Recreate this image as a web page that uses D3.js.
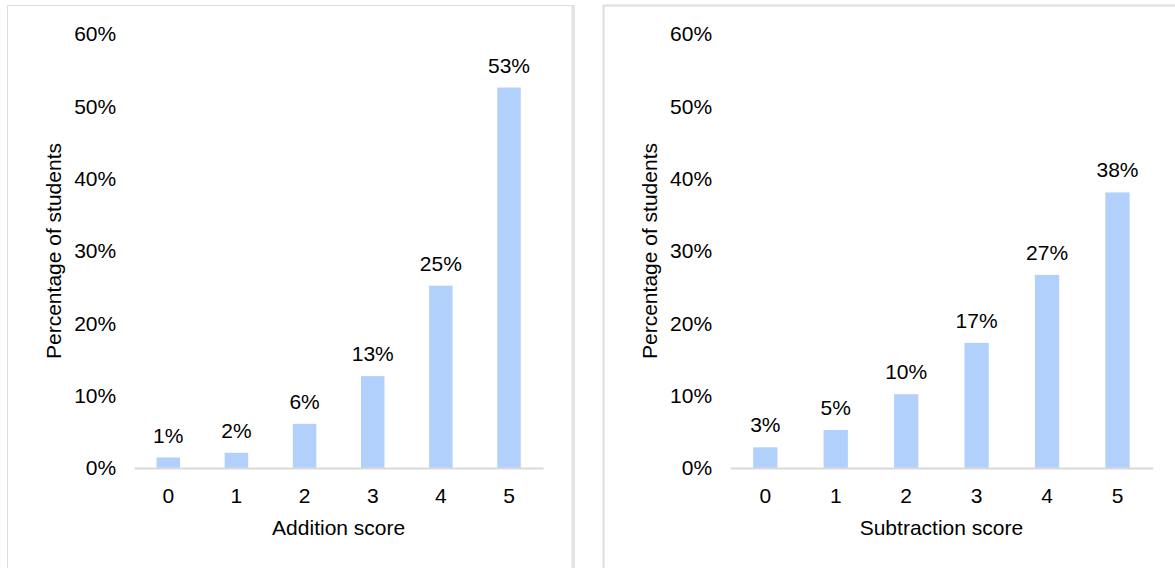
<!DOCTYPE html>
<html>
<head>
<meta charset="utf-8">
<script src="https://cdn.jsdelivr.net/npm/d3@7"></script>
<style>
  html, body { margin: 0; padding: 0; background: #ffffff; }
  svg { display: block; }
  text { font-family: "Liberation Sans", Arial, sans-serif; fill: #000; }
</style>
</head>
<body>
<svg id="chart" width="1175" height="568"></svg>
<script>
// Score categories shared by both panels
const scores = ["0", "1", "2", "3", "4", "5"];
// Share of students at each score (fractions)
const additionShare = [0.0145, 0.021, 0.061, 0.127, 0.252, 0.526];
const subtractionShare = [0.0286, 0.0525, 0.102, 0.173, 0.267, 0.381];
// Y-axis tick values
const yTicks = [0, 0.1, 0.2, 0.3, 0.4, 0.5, 0.6];

const panelDefs = [
  { title: "Addition score", values: additionShare,
    frame: { x: 7, y: 5, w: 567, h: 600 }, plot: { x0: 134.2, x1: 543.1 } },
  { title: "Subtraction score", values: subtractionShare,
    frame: { x: 603, y: 5, w: 600, h: 600 }, plot: { x0: 730.1, x1: 1152.7 } }
];

const svg = d3.select("#chart");
const barColor = "#b1d1fc";
const fontSize = 21;
const pct = d3.format(".0%");

const y = d3.scaleLinear().domain([0, 0.6]).range([468, 34.0]);

panelDefs.forEach((p, idx) => {
  const g = svg.append("g");

  // panel frame
  g.append("rect")
    .attr("x", p.frame.x + 0.5).attr("y", p.frame.y + 0.5)
    .attr("width", p.frame.w).attr("height", p.frame.h)
    .attr("fill", "none").attr("stroke", "#dedede").attr("stroke-width", idx === 0 ? 1 : 2);
  if (idx === 0) {
    g.append("line")
      .attr("x1", p.frame.x + p.frame.w - 1).attr("x2", p.frame.x + p.frame.w - 1)
      .attr("y1", p.frame.y).attr("y2", 568)
      .attr("stroke", "#e4e4e4").attr("stroke-width", 3.5);
  }

  const x = d3.scaleBand()
    .domain(scores)
    .range([p.plot.x0, p.plot.x1])
    .paddingInner(0.655)
    .paddingOuter(0.3275);

  // y axis labels (no line, no ticks)
  const yAxis = d3.axisLeft(y).tickValues(yTicks).tickFormat(pct).tickSize(0).tickPadding(18);
  const ya = g.append("g").attr("transform", `translate(${p.plot.x0},0)`).call(yAxis);
  ya.select(".domain").remove();
  ya.selectAll("text").style("font-size", fontSize + "px").attr("font-family", null).attr("fill", "#000");

  // bars
  g.selectAll("rect.bar")
    .data(p.values)
    .join("rect")
    .attr("class", "bar")
    .attr("x", (d, i) => x(scores[i]))
    .attr("width", x.bandwidth())
    .attr("y", d => y(d))
    .attr("height", d => y(0) - y(d))
    .attr("fill", barColor);

  // value labels
  g.selectAll("text.val")
    .data(p.values)
    .join("text")
    .attr("class", "val")
    .attr("x", (d, i) => x(scores[i]) + x.bandwidth() / 2)
    .attr("y", d => y(d) - 15)
    .attr("text-anchor", "middle")
    .style("font-size", fontSize + "px")
    .text(d => pct(d));

  // x axis with baseline
  const xAxis = d3.axisBottom(x).tickSize(0).tickPadding(20);
  const xa = g.append("g").attr("transform", `translate(0,${y(0)})`).call(xAxis);
  xa.select(".domain").attr("stroke", "#d9d9d9").attr("stroke-width", 2);
  xa.selectAll("text").style("font-size", fontSize + "px").attr("font-family", null).attr("fill", "#000");

  // axis titles
  g.append("text")
    .attr("x", (p.plot.x0 + p.plot.x1) / 2)
    .attr("y", 535)
    .attr("text-anchor", "middle")
    .style("font-size", fontSize + "px")
    .text(p.title);

  const ytx = p.plot.x0 - 73;
  g.append("text")
    .attr("transform", `translate(${ytx},251) rotate(-90)`)
    .attr("text-anchor", "middle")
    .style("font-size", fontSize + "px")
    .text("Percentage of students");
});
</script>
</body>
</html>
